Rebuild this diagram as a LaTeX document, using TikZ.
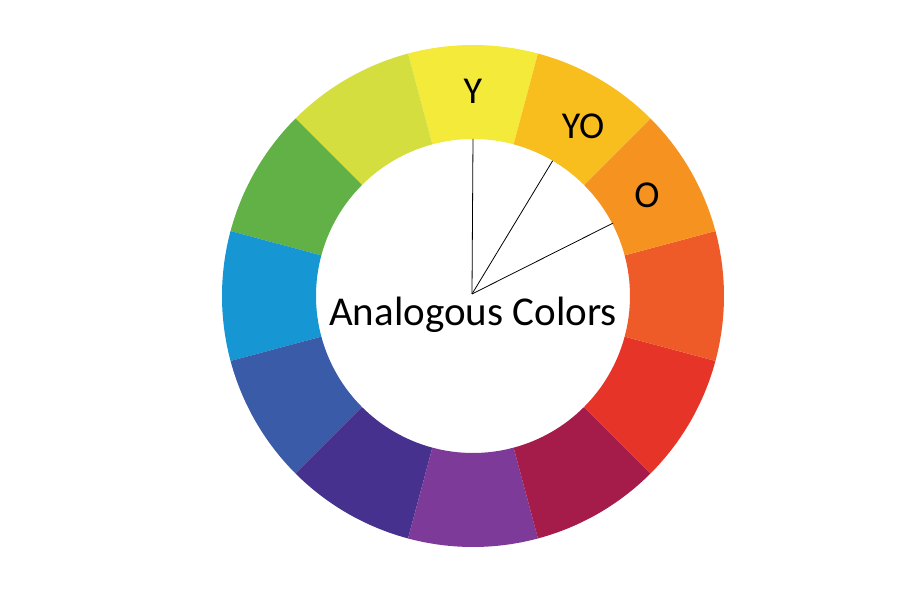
\documentclass[tikz,border=0pt]{standalone}
\usepackage{fontspec}
\setmainfont{Carlito}
\definecolor{colY}{RGB}{244,234,58}
\definecolor{colYG}{RGB}{212,222,62}
\definecolor{colG}{RGB}{98,177,70}
\definecolor{colB}{RGB}{22,150,210}
\definecolor{colBV}{RGB}{58,92,168}
\definecolor{colV}{RGB}{70,50,142}
\definecolor{colP}{RGB}{126,58,152}
\definecolor{colRV}{RGB}{165,28,75}
\definecolor{colR}{RGB}{230,52,40}
\definecolor{colRO}{RGB}{238,90,40}
\definecolor{colO}{RGB}{246,146,32}
\definecolor{colYO}{RGB}{248,190,30}
\begin{document}
\begin{tikzpicture}[x=1pt,y=1pt,
    huelabel/.style={font=\fontsize{38}{38}\selectfont, inner sep=0pt},
    pointer/.style={draw=black, line width=0.8pt}]
      \useasboundingbox (-473,-300) rectangle (427,296);
      % wheel segments
      \fill[colY]  (75:157) arc (75:105:157) -- (105:251) arc (105:75:251) -- cycle;
      \fill[colYG] (105:157) arc (105:135:157) -- (135:251) arc (135:105:251) -- cycle;
      \fill[colG]  (135:157) arc (135:165:157) -- (165:251) arc (165:135:251) -- cycle;
      \fill[colB]  (165:157) arc (165:195:157) -- (195:251) arc (195:165:251) -- cycle;
      \fill[colBV] (195:157) arc (195:225:157) -- (225:251) arc (225:195:251) -- cycle;
      \fill[colV]  (225:157) arc (225:255:157) -- (255:251) arc (255:225:251) -- cycle;
      \fill[colP]  (255:157) arc (255:285:157) -- (285:251) arc (285:255:251) -- cycle;
      \fill[colRV] (285:157) arc (285:315:157) -- (315:251) arc (315:285:251) -- cycle;
      \fill[colR]  (315:157) arc (315:345:157) -- (345:251) arc (345:315:251) -- cycle;
      \fill[colRO] (-15:157) arc (-15:15:157) -- (15:251) arc (15:-15:251) -- cycle;
      \fill[colO]  (15:157) arc (15:45:157) -- (45:251) arc (45:15:251) -- cycle;
      \fill[colYO] (45:157) arc (45:75:157) -- (75:251) arc (75:45:251) -- cycle;
      % labels
      \draw
        (90:205) node[huelabel] (y){Y}
        (57:202) node[huelabel] (yo){YO}
        (30:201) node[huelabel] (o){O};
      \node[font=\fontsize{41}{41}\selectfont, anchor=base, inner sep=0pt] (title) at (0,-30) {Analogous Colors};
      % pointers
      \coordinate (hub) at (-1,2);
      \coordinate (py) at (90:157);
      \coordinate (pyo) at (59.5:157);
      \coordinate (po) at (27.5:158);
      \begin{scope}[-]
        \draw[pointer] (hub) to (py);
        \draw[pointer] (hub) to (pyo);
        \draw[pointer] (hub) to (po);
      \end{scope}
    \end{tikzpicture}
\end{document}
